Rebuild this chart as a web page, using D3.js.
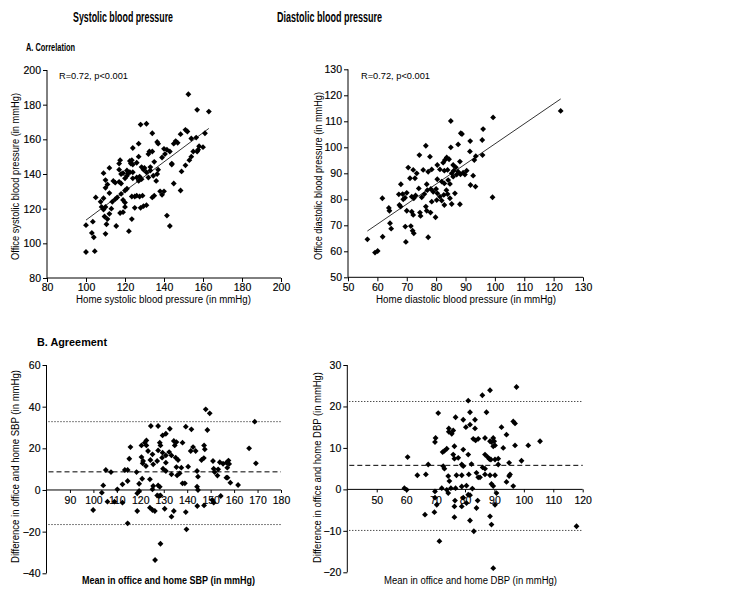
<!DOCTYPE html>
<html>
<head>
<meta charset="utf-8">
<script src="https://cdn.jsdelivr.net/npm/d3@7"></script>
<style>
  html, body { margin: 0; padding: 0; background: #fff; }
  svg { display: block; font-family: "Liberation Sans", Arial, sans-serif; }
  .tick text { fill: #000; }
  .domain, .tick line { stroke: #000; stroke-width: 1; }
</style>
</head>
<body>
<svg id="chart" width="745" height="599"></svg>
<script>
// ---------------- DATA ----------------
const columnTitles = ["Systolic blood pressure", "Diastolic blood pressure"];
const sectionTitles = ["A. Correlation", "B. Agreement"];
const statText = "R=0.72, p<0.001";

const sbpCorrTicks = [80, 100, 120, 140, 160, 180, 200];
const dbpCorrTicks = [50, 60, 70, 80, 90, 100, 110, 120, 130];
const sbpDiffYTicks = [-40, -20, 0, 20, 40, 60];
const sbpMeanXTicks = [90, 100, 110, 120, 130, 140, 150, 160, 170, 180];
const dbpDiffYTicks = [-20, -10, 0, 10, 20, 30];
const dbpMeanXTicks = [50, 60, 70, 80, 90, 100, 110, 120];

// home SBP, office SBP
const sbpCorrPoints = [
[152.5,186],[157,177],[163,176],[128,168.5],[131,169],[134,163.5],[148.5,163],[151,165.5],[152,164.5],
[124,155],[127,157.5],[136.5,158.5],[137,157.5],[146,159],[147,158],[145,157.5],[156.5,161],[154,160.5],[158,156],
[132.5,153],[132,151.5],[134,153],[141.5,154],[143,153],[117.5,148],[117,146],[112,143.5],[109,140.5],
[122.5,147.5],[123.5,148],[123,146],[128.5,144],[129.5,142.5],[133,142],[133,144],[139,149.5],[140.5,151.5],
[144,145.5],[151,145],[153,148],[154,150],[157,153],[157.5,154],[117,142.5],[119,140.5],[121,142],[121.5,140.5],
[122.5,141],[124,137.5],[126,138],[127.5,138.5],[128.5,137],[132,138],[134.5,139],[136.5,140],[110,136.5],
[114,136],[115,135],[117,135.5],[118,134.5],[120,130.5],[121,131.5],[105,126.5],[107.5,124],[109,126],
[113.5,124],[115,125.5],[116,126.5],[119,125],[120,123.5],[123.5,127],[125,127],[126,127.5],[127.5,127],
[129,127.5],[120,121],[125,120.5],[128,120.5],[129.5,121.5],[131,122],[134,126.5],[135,127.5],[138,130],
[139,128],[141.5,116],[143,110],[148.5,130.5],[100,110.5],[103.5,112.5],[109.5,115.5],[110.5,111],
[115.5,110],[122,107],[123.5,114],[103,106],[104,103.5],[110,105.5],[100,95],[104.5,95.5],[117.5,117.5],
[119,118],[113,120],[108,121],[109,119.5],
[161,163.5],[160,155.5],[155,153],[145,134.5],[149,141.5],[140,130],[140,154.5],[135,147],[131,141],
[127,150],[127,136],[124,145.5],[118,140],[118,128.5],[112,129],[112,117],[111,134],[111,114],[110,132],
[110,121],[121,139],[124,141],[130,143.5],[126,146.5],[137,142.5],[144,146],[136,136],[120,137.5]
];
const sbpRegression = [[100, 113.4], [163, 166.3]];

// home DBP, office DBP
const dbpCorrPoints = [
[99.4,111.5],[85,110.1],[88.8,105.1],[88.4,105.4],[96,107],[91.6,102.4],[95.7,102.8],[76.5,100.6],[87.5,101.1],
[85,100],[74.3,97],[77.9,96.4],[83.6,96.1],[84.4,95.4],[83,95.1],[91.5,98.4],[93.5,96.6],[93,95.1],[95.8,97],
[80.4,93.2],[82.4,94.1],[85.8,93.2],[86.7,92.3],[88.1,94.5],[90.4,91],[89.2,90.2],[89.8,89.5],[92.6,89.1],
[91.7,85.5],[93.4,84.9],[99.2,80.8],[70.5,92.2],[72.2,91.3],[73.4,90],[75.6,91.3],[77.3,90.6],[78.5,91.5],
[71.1,88.1],[72.8,88.1],[81.3,91.5],[82.8,91],[83.9,91.3],[85.3,90],[85.8,88.7],[87.5,90.6],[88.3,89.6],
[80.4,87.7],[81.9,86.8],[82.8,86.1],[84.1,87.4],[84.7,85.9],[74.1,84.2],[76.8,85.8],[78.2,84],[68,85.8],
[67.3,81.9],[68.6,82],[69.4,80.6],[68.8,80],[71.7,81],[72.4,80.4],[75.1,80.8],[79,82.9],[80.4,82.3],[81.3,81],
[82.6,81.7],[83.9,82],[84.7,80.4],[78.5,79.1],[80.2,79.7],[81.9,79.5],[82.8,77.8],[85.3,78.2],[86.4,82.3],
[88.1,78.1],[67.5,77.8],[67.9,77.2],[70,75.6],[71.7,75.2],[72.2,74],[74.5,74.9],[74.7,73.6],[76.5,77.2],
[76.8,75.6],[78.1,74.9],[79.8,73.1],[63.9,76.7],[64.1,75.6],[61.7,80.4],[64.3,70.8],[64.7,68.7],[69.5,69.5],
[71.4,69.7],[72,67.9],[72.4,66.9],[61.8,65.6],[69.7,63.6],[77.3,65.4],[56.6,64.6],[59.2,59.5],[60.1,60.1],
[122.4,114],[86,91],[87,89.5],[76,82],[77,83.5],[73,81.5],[70,82.5],[80,84],[83.5,83.5]
];
const dbpRegression = [[56.6, 67.8], [122.4, 118.6]];

// mean SBP, difference SBP
const sbpAgreePoints = [
[147.9,38.7],[149.6,36.8],[124.5,30.7],[127.6,30.7],[132.6,29.4],[139.4,30.4],[141.8,29.1],[148.6,28.8],
[130.9,27],[129.5,26.2],[122.6,23.8],[121.9,22.7],[120.5,21.4],[122.6,21.4],[128.3,22.7],[128.6,21.4],
[134.3,23.5],[135.4,23],[134.7,21.4],[138,22.7],[115.8,20.6],[142.5,20.6],[143.6,18.7],[141.5,18.7],
[147.2,21.4],[147.5,19.5],[123.3,18.7],[125.2,17.1],[127.6,19],[129.5,17.9],[130.9,16.6],[132.3,18.2],
[133.3,16.6],[120.5,15.8],[121.2,13.9],[115.3,15],[124.3,14.4],[125.5,12.3],[127.2,13.9],[129.3,15.5],
[130.9,13.1],[135.1,15.5],[136.1,14.4],[135.4,11],[137.5,10.7],[140.4,11.2],[146.1,14.4],[147.1,15.3],
[151,13.9],[153.2,9.9],[151.3,10.2],[155.3,12.6],[156.7,13.1],[105.3,9.6],[107.5,8.6],[113.4,9.6],
[114.6,9.6],[118.4,8.6],[121,12.8],[122.4,11.5],[129.7,10.2],[130.9,9.1],[133.3,7.5],[135.7,7],[136.8,8],
[144.2,9.1],[144.6,6.4],[151.7,8.6],[152.9,6.9],[156.7,5.9],[104.2,2.2],[112.4,2.7],[114.6,4.3],[119.5,3],
[120.8,5.4],[138,3.2],[139,3.2],[124.1,5.1],[127.6,2.2],[128.3,1.5],[144.2,1.6],[103.6,-1.3],[110.2,0.3],
[119.5,-0.5],[118.7,-1.6],[112.4,-6.1],[125.5,1.9],[125.2,0.3],[127.2,-2.6],[128,-2.9],[128.6,-2.6],
[144.6,0],[144.3,-7.7],[150.7,-4.8],[151.3,-6.1],[154.3,-2.9],[147.2,-7.4],[99.9,-9.6],[118.7,-10.1],
[124.1,-8.5],[125.2,-9.6],[126.2,-10.1],[130.4,-9],[134.3,-10.1],[133.3,-12.8],[139.4,-10.6],[114.6,-16],
[139.7,-18.9],[128.6,-25.8],[126.3,-33.6],
[157.6,14.1],[157.9,12.5],[157.1,10.7],[157.2,5.9],[158.4,3.5],[161.7,2.4],[166.4,20],[168.8,32.8],[169.3,12.8],
[153.9,13.3],[109,-5.6],[106,-5.6]
];
const sbpLimits = { mean: 8.7, upper: 32.8, lower: -16.6 };

// mean DBP, difference DBP
const dbpAgreePoints = [
[97.5,24.7],[88.5,23.9],[85.9,22.7],[81.1,21.4],[70.9,18.4],[81.7,18.6],[87.3,18.6],[76.8,17.4],[79.4,16.8],
[83.4,16.8],[81.7,15.6],[80.3,15],[83.4,14.7],[74.5,14.7],[76,14.2],[75.5,13.4],[74.5,13.9],[92.4,15],
[96.4,16.4],[97,15.9],[94.1,13.2],[70,12.4],[69.8,11.4],[82.8,12.2],[83.6,11.8],[84.5,12.2],[86.8,12.4],
[88.5,11.6],[89.6,12.4],[89,11.4],[89.9,11.6],[90.2,10.6],[89.6,10.4],[93,10],[97,10.6],[101.5,10.6],
[105.5,11.6],[73,9.3],[72.4,9],[73.8,9.8],[76.4,10.4],[79.4,9.6],[76,8.4],[76.4,7.4],[77.7,7.6],[81.1,8.4],
[86.8,8.4],[87.7,7.8],[88.3,7.3],[86,5.3],[86.8,5],[88.8,7.2],[90.2,7.2],[91.3,7.4],[95,6.4],[99.2,6.9],
[60.5,7.8],[67.5,6],[72.6,5.6],[73,5],[78.9,6],[79.4,5.6],[82.2,6.1],[91.3,6],[95.3,3.6],[95,3.2],[63.8,3.4],
[66.7,3.6],[74.3,3.2],[74.7,2],[77.1,3.4],[78.9,3.4],[81.3,3.6],[83.9,4],[85.1,2.9],[84.5,2.9],[86.8,3.6],
[88.5,3.4],[90.2,3.4],[94.1,1.8],[96.4,0.8],[59.4,0.3],[60.2,-0.1],[69.8,-0.5],[72.1,0.3],[73.8,-0.1],
[74.3,-0.9],[75.2,0.3],[76.8,0.3],[78.9,0.7],[80.5,0.9],[82.5,0.2],[81.1,-1.3],[81.7,-1.4],[89,1.3],
[89.6,0.8],[90.7,-0.9],[69.8,-2],[70.4,-3.7],[76.6,-2.7],[76.4,-4.1],[79.4,-2],[80.5,-3.3],[84.3,-2.7],
[90.2,-3.7],[66.4,-6.1],[69.6,-5.5],[76.4,-6.7],[78.9,-4.1],[83.9,-4.5],[88.5,-6.5],[81.7,-7.5],[89,-8.5],
[83,-10.1],[71.3,-12.5],[89.6,-19],[117.9,-8.9]
];
const dbpLimits = { mean: 5.8, upper: 21.2, lower: -9.9 };

// ---------------- DRAW ----------------
const svg = d3.select("#chart");
svg.append("rect").attr("width", 745).attr("height", 599).attr("fill", "#fff");

const narrow = "'Liberation Sans Narrow', 'Arial Narrow', 'Liberation Sans', Arial, sans-serif";
const tickFont = 10.5;

function text(x, y, str, opts = {}) {
  const t = svg.append("text").attr("x", x).attr("y", y).text(str)
    .attr("font-size", opts.size || 10)
    .attr("font-family", opts.family || "'Liberation Sans', Arial, sans-serif")
    .attr("font-weight", opts.weight || "normal")
    .attr("fill", "#000")
    .attr("text-anchor", opts.anchor || "start");
  if (opts.len) t.attr("textLength", opts.len).attr("lengthAdjust", "spacingAndGlyphs");
  if (opts.rotate) t.attr("transform", `rotate(-90,${x},${y})`);
  return t;
}

// column and section titles
text(73, 22, columnTitles[0], { size: 15, weight: "bold", family: narrow, len: 100 });
text(277, 22, columnTitles[1], { size: 15, weight: "bold", family: narrow, len: 105 });
text(26, 51, sectionTitles[0], { size: 11, weight: "bold", family: narrow, len: 49 });
text(37, 346, sectionTitles[1], { size: 11, weight: "bold", family: narrow, len: 70 });

function dot(g, pts, x, y) {
  g.selectAll("path.pt").data(pts).join("path").attr("class", "pt")
    .attr("d", d3.symbol(d3.symbolSquare, 17)())
    .attr("transform", d => `translate(${x(d[0])},${y(d[1])}) rotate(45)`)
    .attr("fill", "#000");
}

function styleTicks(g) {
  g.selectAll(".tick text").attr("font-size", tickFont)
    .attr("font-family", "'Liberation Sans', Arial, sans-serif")
    .attr("stroke", "#000").attr("stroke-width", 0.15);
}

// ---- Correlation panels ----
function corrPanel(cfg) {
  const x = d3.scaleLinear().domain(cfg.xd).range(cfg.xr);
  const y = d3.scaleLinear().domain(cfg.yd).range(cfg.yr);
  const g = svg.append("g");
  g.append("g").attr("transform", `translate(0,${cfg.yr[0]})`)
    .call(d3.axisBottom(x).tickValues(cfg.ticks).tickSize(4).tickPadding(2).tickFormat(d3.format("d")));
  g.append("g").attr("transform", `translate(${cfg.xr[0]},0)`)
    .call(d3.axisLeft(y).tickValues(cfg.ticks).tickSize(4).tickPadding(2).tickFormat(d3.format("d")));
  g.selectAll(".domain").attr("d", null);
  g.append("line").attr("x1", cfg.xr[0]).attr("x2", cfg.xr[1]).attr("y1", cfg.yr[0]).attr("y2", cfg.yr[0]).attr("stroke", "#000");
  g.append("line").attr("x1", cfg.xr[0]).attr("x2", cfg.xr[0]).attr("y1", cfg.yr[0]).attr("y2", cfg.yr[1]).attr("stroke", "#000");
  styleTicks(g);
  g.append("path").datum(cfg.reg)
    .attr("d", d3.line().x(d => x(d[0])).y(d => y(d[1])))
    .attr("stroke", "#000").attr("stroke-width", 0.8).attr("fill", "none");
  dot(g, cfg.pts, x, y);
  return { x, y };
}

corrPanel({ xd: [80, 200], xr: [47, 281], yd: [80, 200], yr: [278, 70], ticks: sbpCorrTicks, pts: sbpCorrPoints, reg: sbpRegression });
corrPanel({ xd: [50, 130], xr: [348, 583], yd: [50, 130], yr: [277.3, 69.3], ticks: dbpCorrTicks, pts: dbpCorrPoints, reg: dbpRegression });

text(59, 79, statText, { size: 9.5, len: 69 });
text(361, 79, statText, { size: 9.5, len: 69 });
text(76, 303, "Home systolic blood pressure (in mmHg)", { size: 10, len: 175 });
text(19, 260, "Office systolic blood pressure (in mmHg)", { size: 10, len: 167, rotate: true });
text(376, 303, "Home diastolic blood pressure (in mmHg)", { size: 10, len: 180 });
text(322, 260, "Office diastolic blood pressure (in mmHg)", { size: 10, len: 168, rotate: true });

// ---- Agreement panels ----
function agreePanel(cfg) {
  const x = d3.scaleLinear().domain(cfg.xd).range(cfg.xr);
  const y = d3.scaleLinear().domain(cfg.yd).range(cfg.yr);
  const g = svg.append("g");
  g.append("g").attr("transform", `translate(0,${y(0)})`)
    .call(d3.axisBottom(x).tickValues(cfg.xticks).tickSize(3).tickPadding(4).tickFormat(d3.format("d")));
  g.append("g").attr("transform", `translate(${cfg.xr[0]},0)`)
    .call(d3.axisLeft(y).tickValues(cfg.yticks).tickSize(4).tickPadding(2).tickFormat(d3.format("d")));
  g.selectAll(".domain").attr("d", null);
  g.append("line").attr("x1", cfg.xr[0]).attr("x2", cfg.xr[1]).attr("y1", y(0)).attr("y2", y(0)).attr("stroke", "#000");
  g.append("line").attr("x1", cfg.xr[0]).attr("x2", cfg.xr[0]).attr("y1", cfg.yr[0]).attr("y2", cfg.yr[1]).attr("stroke", "#000");
  styleTicks(g);
  const lim = cfg.lim;
  [["upper", "1,2"], ["mean", "5,3"], ["lower", "1,2"]].forEach(([k, dash]) => {
    g.append("line").attr("x1", x(cfg.xd[0]) + 2).attr("x2", cfg.xr[1])
      .attr("y1", y(lim[k])).attr("y2", y(lim[k]))
      .attr("stroke", "#000").attr("stroke-width", 1).attr("stroke-dasharray", dash);
  });
  dot(g, cfg.pts, x, y);
}

agreePanel({ xd: [80, 180], xr: [46.5, 281], yd: [-40, 60], yr: [573.3, 365], xticks: sbpMeanXTicks, yticks: sbpDiffYTicks, pts: sbpAgreePoints, lim: sbpLimits });
agreePanel({ xd: [40, 120], xr: [347.3, 582.7], yd: [-20, 30], yr: [572.3, 365], xticks: dbpMeanXTicks, yticks: dbpDiffYTicks, pts: dbpAgreePoints, lim: dbpLimits });

text(82, 584, "Mean in office and home SBP (in mmHg)", { size: 10, weight: "bold", len: 173 });
text(19, 563, "Difference in office and home SBP (in mmHg)", { size: 10, len: 193, rotate: true });
text(384, 584, "Mean in office and home DBP (in mmHg)", { size: 10, len: 173 });
text(321, 563, "Difference in office and home DBP (in mmHg)", { size: 10, len: 191, rotate: true });
</script>
</body>
</html>
